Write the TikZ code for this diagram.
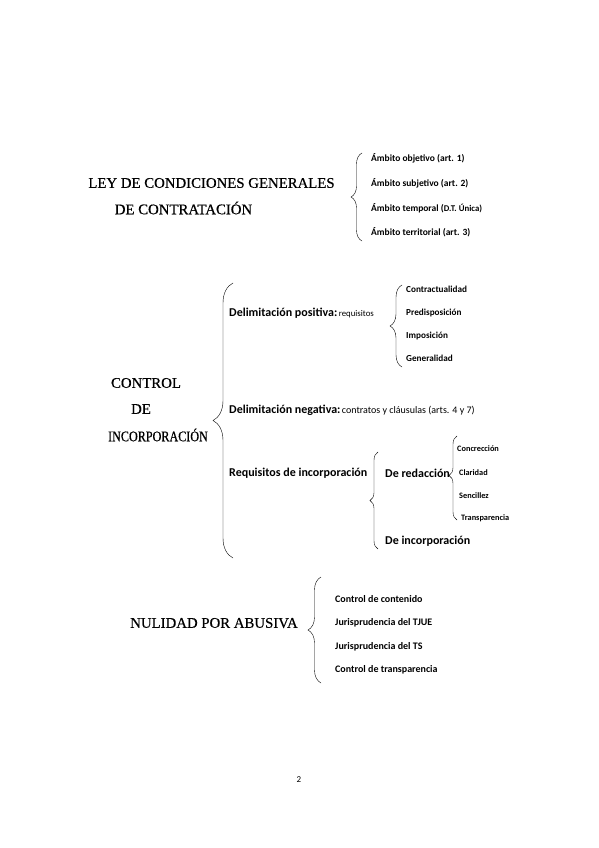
\documentclass[tikz,border=0pt]{standalone}
\usepackage{fontspec}
\setmainfont{Liberation Serif}[FakeBold=0.5]
\newfontfamily\calfont{Carlito}
\usetikzlibrary{decorations.pathreplacing}
\begin{document}
\begin{tikzpicture}[x=1pt,y=-1pt,
  title/.style={font=\fontsize{14.8}{16}\selectfont, inner sep=0pt},
  item/.style={anchor=west, inner sep=0pt, font=\calfont\bfseries\fontsize{9.5}{11}\selectfont},
  item3/.style={anchor=west, inner sep=0pt, font=\calfont\bfseries\fontsize{10}{11}\selectfont},
  mid/.style={anchor=west, inner sep=0pt, font=\calfont\bfseries\fontsize{12}{13}\selectfont},
  tiny/.style={anchor=west, inner sep=0pt, font=\calfont\bfseries\fontsize{9.2}{10}\selectfont},
  tinier/.style={anchor=west, inner sep=0pt, font=\calfont\bfseries\fontsize{8.3}{9}\selectfont},
  brc/.style={decorate, decoration={brace, amplitude=#1}, thin},
  brc/.default=6pt]
\useasboundingbox (0,0) rectangle (599,848);
% ---- Section 1
\node[title] (t1a) at (211.5,183) {LEY DE CONDICIONES GENERALES};
\node[title] (t1b) at (183.5,208) {DE CONTRATACIÓN};
\coordinate (b1t) at (362,153);
\coordinate (b1b) at (362,241);
\draw[brc=11pt] (b1b) -- (b1t);
\node[item] (a1) at (371,158) {Ámbito objetivo (art. 1)};
\node[item] (a2) at (371,183) {Ámbito subjetivo (art. 2)};
\node[item] (a3) at (371,208) {Ámbito temporal (\fontsize{8.8}{9}\selectfont D.T. Única)};
\node[item] (a4) at (371,232) {Ámbito territorial (art. 3)};
% ---- Section 2
\node[title] (c1) at (146,383) {CONTROL};
\node[title] (c2) at (141,409) {DE};
\node[title] (c3) at (158,435) {\scalebox{0.82}[1]{INCORPORACIÓN}};
\coordinate (b2t) at (233,283);
\coordinate (b2b) at (233,558);
\draw[brc=20pt] (b2b) -- (b2t);
\node[mid] (dp) at (229,313) {Delimitación positiva:\hspace{1.5pt}{\mdseries\fontsize{8.8}{10}\selectfont requisitos}};
\coordinate (b3t) at (402,285);
\coordinate (b3b) at (402,367);
\draw[brc=12pt] (b3b) -- (b3t);
\node[tiny] (p1) at (406,289) {Contractualidad};
\node[tiny] (p2) at (406,313) {Predisposición};
\node[tiny] (p3) at (406,336) {Imposición};
\node[tiny] (p4) at (406,358) {Generalidad};
\node[mid] (dn) at (229,410) {Delimitación negativa:\hspace{1.5pt}{\mdseries\fontsize{10}{11}\selectfont contratos y cláusulas (arts. 4 y 7)}};
\node[mid] (ri) at (229,473) {Requisitos de incorporación};
\coordinate (b4t) at (378,452);
\coordinate (b4b) at (378,549);
\draw[brc=8pt] (b4b) -- (b4t);
\node[mid] (dr) at (385,473) {De redacción};
\node[mid] (di) at (385,541) {De incorporación};
\coordinate (b5t) at (457,436);
\coordinate (b5b) at (457,520);
\draw[brc=8pt, decoration={aspect=0.53}] (b5b) -- (b5t);
\node[tinier] (r1) at (457,449) {Concrección};
\node[tinier] (r2) at (459,473) {Claridad};
\node[tinier] (r3) at (459,496) {Sencillez};
\node[tinier] (r4) at (461,518) {Transparencia};
% ---- Section 3
\node[title] (n1) at (214,623) {NULIDAD POR ABUSIVA};
\coordinate (b6t) at (321,577);
\coordinate (b6b) at (321,683);
\draw[brc=13pt] (b6b) -- (b6t);
\node[item3] (u1) at (335,599) {Control de contenido};
\node[item3] (u2) at (335,623) {Jurisprudencia del TJUE};
\node[item3] (u3) at (335,647) {Jurisprudencia del TS};
\node[item3] (u4) at (335,670) {Control de transparencia};
% page number
\node[inner sep=0pt, font=\calfont\fontsize{9}{10}\selectfont] (pg) at (299,780) {2};
\end{tikzpicture}
\end{document}
